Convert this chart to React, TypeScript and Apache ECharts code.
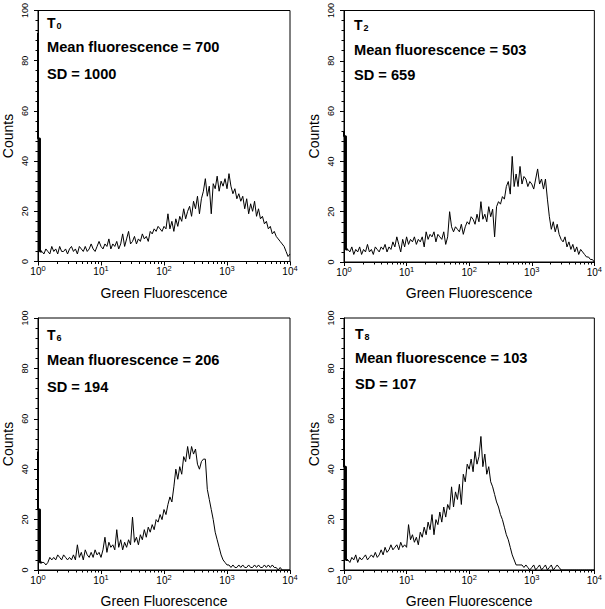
import React, { useEffect, useRef } from "react";
import * as echarts from "echarts";

// ---------- data ----------
const timeSubscripts = ["0", "2", "6", "8"];
const meanValues = [700, 503, 206, 103];
const sdValues = [1000, 659, 194, 107];
const yTickValues = [0, 20, 40, 60, 80, 100];
const channelsPerDecade = 32;

const countsT0 = [
  91, 49, 4, 3, 5, 4, 3, 6, 4, 5,
  3, 6, 4, 4, 5, 3, 5, 6, 4, 5,
  3, 6, 5, 4, 6, 4, 5, 7, 5, 4,
  6, 8, 6, 5, 7, 6, 9, 5, 7, 6,
  8, 5, 7, 11, 6, 9, 12, 7, 8, 10,
  7, 9, 8, 11, 9, 10, 8, 12, 11, 13,
  12, 14, 13, 12, 14, 13, 19, 13, 16, 12,
  17, 14, 18, 16, 21, 17, 20, 22, 18, 24,
  21, 26, 19, 25, 28, 33, 26, 30, 19, 31,
  29, 34, 28, 32, 30, 33, 29, 35, 30, 27,
  29, 25, 27, 24, 26, 21, 25, 19, 23, 20,
  24, 18, 21, 17, 18, 15, 16, 13, 14, 11,
  12, 10, 9, 8, 7, 6, 4, 2, 3,
];

const countsT2 = [
  52, 50, 5, 4, 6, 3, 5, 4, 6, 3,
  5, 4, 7, 4, 5, 3, 6, 5, 4, 6,
  5, 7, 4, 6, 5, 8, 6, 10, 7, 4,
  9, 6, 10, 7, 9, 8, 10, 7, 9, 8,
  10, 6, 12, 9, 11, 10, 12, 8, 11, 10,
  9, 12, 7, 10, 20, 14, 12, 14, 13, 12,
  15, 11, 14, 16, 15, 18, 17, 15, 19, 16,
  24, 17, 19, 16, 22, 18, 21, 10, 22, 24,
  23, 26, 25, 30, 32, 27, 42, 30, 35, 30,
  38, 31, 34, 33, 30, 32, 31, 29, 33, 37,
  31, 33, 29, 33, 25, 18, 13, 16, 12, 15,
  11, 9, 8, 10, 6, 8, 5, 7, 4, 6,
  3, 5, 4, 3, 2, 2, 1, 1, 0,
];

const countsT6 = [
  47, 24, 3, 3, 2, 3, 5, 4, 5, 4,
  6, 5, 4, 6, 5, 4, 5, 4, 6, 4,
  10, 5, 7, 4, 8, 6, 5, 7, 5, 8,
  6, 7, 5, 8, 13, 7, 11, 9, 10, 8,
  16, 9, 12, 8, 11, 9, 12, 10, 21, 11,
  13, 10, 14, 12, 16, 13, 17, 15, 18, 16,
  20, 19, 22, 20, 24, 22, 26, 29, 27, 33,
  40, 36, 41, 38, 45, 43, 49, 44, 49, 46,
  48, 42, 40, 43, 44, 44, 32, 28, 24, 20,
  15, 12, 9, 6, 4, 3, 2, 2, 1, 2,
  1, 1, 2, 1, 2, 1, 1, 2, 1, 1,
  2, 1, 2, 1, 1, 2, 1, 2, 1, 2,
  1, 1, 0, 1, 0, 0, 0, 0, 0,
];

const countsT8 = [
  79, 41, 4, 3, 5, 4, 6, 3, 5, 4,
  5, 6, 4, 5, 6, 5, 7, 5, 6, 8,
  6, 9, 7, 8, 10, 8, 9, 10, 8, 11,
  9, 10, 9, 18, 12, 14, 11, 13, 10, 15,
  13, 17, 14, 19, 16, 22, 14, 20, 18, 23,
  19, 25, 21, 26, 24, 33, 25, 31, 28, 34,
  26, 38, 35, 42, 40, 44, 39, 47, 42, 45,
  53, 41, 46, 38, 41, 35, 33, 30, 27, 25,
  22, 20, 17, 14, 12, 9, 6, 4, 2, 2,
  2, 2, 1, 2, 1, 0, 1, 2, 0, 1,
  2, 0, 1, 2, 0, 1, 2, 0, 1, 2,
  1, 0, 0, 0, 0, 0, 0, 0, 0, 0,
  0, 0, 0, 0, 0, 0, 0, 0, 0,
];

const panelCounts = [countsT0, countsT2, countsT6, countsT8];

// ---------- layout ----------
const FONT = "'Liberation Sans', Arial, Helvetica, sans-serif";
const grids = [
  { left: 38, top: 8.5, width: 252, height: 253 },
  { left: 344, top: 9, width: 253, height: 253 },
  { left: 38, top: 318, width: 252, height: 254 },
  { left: 344, top: 318, width: 254, height: 254 },
];
const textPos = [
  { x: 47, tY: 23.3, mY: 47, sY: 74 },
  { x: 354, tY: 25, mY: 49.7, sY: 75.3 },
  { x: 47, tY: 335, mY: 360, sY: 386.7 },
  { x: 355, tY: 334, mY: 358, sY: 384 },
];
const SPIKE_LEN = 3; // first channels drawn as a step so the pile-up spike is vertical

function buildOption() {
  const minorTickPositions: number[] = [];
  for (let k = 0; k < 4; k++) {
    for (let m = 2; m <= 9; m++) minorTickPositions.push(Math.log10(m * Math.pow(10, k)));
  }
  const xAxis: any[] = [];
  const yAxis: any[] = [];
  const series: any[] = [];
  const graphic: any[] = [];

  grids.forEach((g, gi) => {
    xAxis.push({
      type: "log",
      logBase: 10,
      gridIndex: gi,
      min: 1,
      max: 10000,
      axisLine: { show: true, lineStyle: { color: "#000", width: 1 } },
      axisTick: { show: true, inside: false, length: 4, lineStyle: { color: "#000" } },
      splitLine: { show: false },
      axisLabel: {
        show: true,
        margin: 3,
        color: "#000",
        formatter: (v: number) => `{b|10}{s|${Math.round(Math.log10(v))}}`,
        rich: {
          b: { fontSize: 10, fontFamily: FONT, color: "#000" },
          s: { fontSize: 7.5, fontFamily: FONT, color: "#000", padding: [0, 0, 6, 0] },
        },
      },
      name: "Green Fluorescence",
      nameLocation: "middle",
      nameGap: 24,
      nameTextStyle: { fontFamily: FONT, fontSize: 14, color: "#000" },
    });
    xAxis.push({
      type: "value",
      gridIndex: gi,
      min: 0,
      max: 4,
      position: "bottom",
      axisLine: { show: false },
      axisLabel: { show: false },
      splitLine: { show: false },
      axisTick: {
        show: true,
        inside: false,
        length: 2.5,
        customValues: minorTickPositions,
        lineStyle: { color: "#000" },
      },
    });
    yAxis.push({
      type: "value",
      gridIndex: gi,
      min: 0,
      max: 100,
      interval: 20,
      axisLine: { show: true, lineStyle: { color: "#000", width: 1 } },
      axisTick: { show: true, inside: false, length: 4, lineStyle: { color: "#000" } },
      minorTick: { show: true, splitNumber: 5, length: 2.5, lineStyle: { color: "#000" } },
      splitLine: { show: false },
      minorSplitLine: { show: false },
      axisLabel: {
        rotate: 90,
        fontSize: 9,
        margin: 9,
        color: "#000",
        fontFamily: FONT,
        customValues: yTickValues,
      },
      name: "Counts",
      nameLocation: "middle",
      nameGap: 23,
      nameTextStyle: { fontFamily: FONT, fontSize: 14, color: "#000" },
    });
    const points = panelCounts[gi].map((c, i) => [Math.pow(10, i / channelsPerDecade), c]);
    series.push({
      type: "line",
      xAxisIndex: gi * 2,
      yAxisIndex: gi,
      step: "start",
      symbol: "none",
      showSymbol: false,
      silent: true,
      clip: false,
      lineStyle: { color: "#000", width: 2 },
      data: points.slice(0, SPIKE_LEN),
    });
    series.push({
      type: "line",
      xAxisIndex: gi * 2,
      yAxisIndex: gi,
      symbol: "none",
      showSymbol: false,
      silent: true,
      lineStyle: { color: "#000", width: 1 },
      data: points.slice(SPIKE_LEN - 1),
    });
    const tp = textPos[gi];
    graphic.push({
      type: "text",
      x: tp.x,
      y: tp.tY,
      silent: true,
      style: {
        text: `{t|T}{s|${timeSubscripts[gi]}}`,
        verticalAlign: "middle",
        fill: "#000",
        rich: {
          t: { fontSize: 14, fontWeight: "bold", fontFamily: FONT, fill: "#000" },
          s: { fontSize: 9, fontWeight: "bold", fontFamily: FONT, fill: "#000", padding: [6, 0, 0, 1] },
        },
      },
    });
    graphic.push({
      type: "text",
      x: tp.x,
      y: tp.mY,
      silent: true,
      style: {
        text: `Mean fluorescence = ${meanValues[gi]}`,
        font: `bold 14.6px ${FONT}`,
        verticalAlign: "middle",
        fill: "#000",
      },
    });
    graphic.push({
      type: "text",
      x: tp.x,
      y: tp.sY,
      silent: true,
      style: {
        text: `SD = ${sdValues[gi]}`,
        font: `bold 14.6px ${FONT}`,
        verticalAlign: "middle",
        fill: "#000",
      },
    });
  });

  return {
    animation: false,
    backgroundColor: "#fff",
    grid: grids.map((g) => ({
      ...g,
      show: true,
      borderColor: "#000",
      borderWidth: 1,
      backgroundColor: "transparent",
      containLabel: false,
    })),
    xAxis,
    yAxis,
    series,
    graphic,
  };
}

export default function App() {
  const ref = useRef<HTMLDivElement>(null);
  useEffect(() => {
    if (!ref.current) return;
    const chart = echarts.init(ref.current, undefined, { renderer: "svg" });
    chart.setOption(buildOption() as any);
    return () => chart.dispose();
  }, []);
  return (
    <div
      ref={ref}
      style={{ position: "fixed", left: 0, top: 0, width: 605, height: 609, background: "#fff" }}
    />
  );
}
